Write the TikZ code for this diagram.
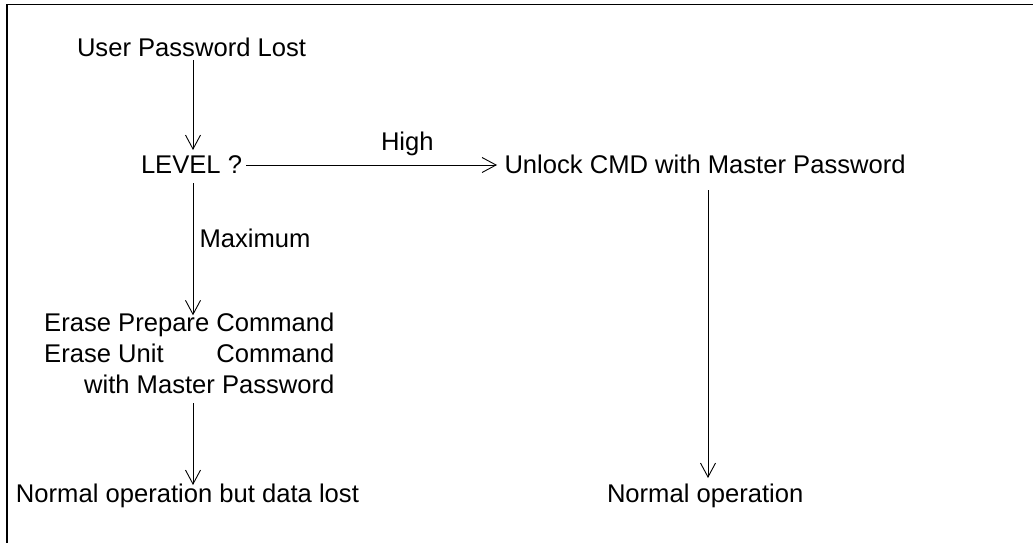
\documentclass[tikz,border=0pt]{standalone}
\usepackage{fontspec}
\usepackage{calc}
\setmainfont{Liberation Sans}
\usetikzlibrary{arrows.meta}
\begin{document}
\begin{tikzpicture}[x=1pt,y=-1pt,
  txt/.style={inner sep=0pt,outer sep=0pt,font=\fontsize{25.6}{31}\selectfont,text height=19pt,text depth=6pt},
  block/.style={inner sep=0pt,outer sep=0pt,font=\fontsize{25.6}{31}\selectfont,align=right},
  arr/.style={line width=0.9pt,-{Straight Barb[length=14pt,width=15pt,line width=0.9pt]}},
  frame/.style={line width=1.8pt}]
\useasboundingbox (0,0) rectangle (1033,543);
\draw[frame] (7,543) -- (7,4.5) -- (1033,4.5);
\coordinate (colL) at (193,0);
\coordinate (colR) at (708,0);
\node[txt,anchor=base west] (user) at (77,57) {User Password Lost};
\node[txt,anchor=base west] (level) at (141,173) {LEVEL ?};
\node[txt,anchor=base west] (unlock) at (504.5,173) {Unlock CMD with Master Password};
\node[txt,anchor=base west] (high) at (381,150) {High};
\node[txt,anchor=base west] (maximum) at (199.5,247.5) {Maximum};
\node[block,anchor=north east] (erase) at (334.5,313.3) {Erase Prepare Command\\\makebox[\widthof{Erase Prepare Command}][s]{Erase Unit\hfill Command}\\with Master Password};
\node[txt,anchor=base west] (norm1) at (16,502) {Normal operation but data lost};
\node[txt,anchor=base west] (norm2) at (607,502) {Normal operation};
\draw[arr] ([yshift=3pt]user.south -| colL) -- ([yshift=4pt]level.north -| colL);
\draw[arr] ([shift={(4pt,8pt)}]level.base east) -- ([shift={(-7.5pt,8pt)}]unlock.base west);
\draw[arr] ([yshift=-4pt]level.south -| colL) -- ([yshift=-2pt]erase.north -| colL);
\draw[arr] ([yshift=-9pt]erase.south -| colL) -- ([yshift=-2pt]norm1.north -| colL);
\draw[arr] ([yshift=-11pt]unlock.south -| colR) -- ([yshift=5pt]norm2.north -| colR);
\end{tikzpicture}
\end{document}
